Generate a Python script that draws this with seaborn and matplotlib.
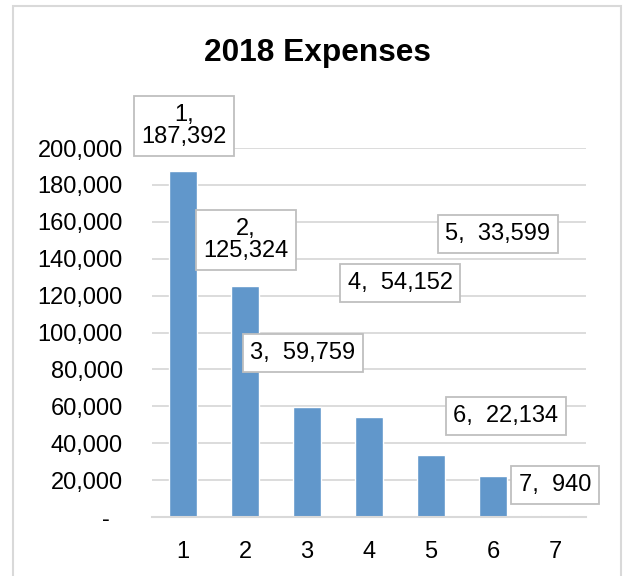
import matplotlib
matplotlib.use("Agg")
import matplotlib.pyplot as plt
import seaborn as sns
import pandas as pd
from matplotlib.patches import Rectangle
from matplotlib.ticker import FuncFormatter, FixedLocator

# ---- data ----
categories = ["1", "2", "3", "4", "5", "6", "7"]
values = [187392, 125324, 59759, 54152, 33599, 22134, 940]
title = "2018 Expenses"
y_ticks = [0, 20000, 40000, 60000, 80000, 100000, 120000, 140000, 160000, 180000, 200000]

# label box anchor positions (category index, y in data units) - layout only
label_pos = [(0.016, 211900), (1.016, 150100), (1.935, 88900), (3.5, 126800),
             (5.08, 153400), (5.21, 54700), (6.0, 17300)]
label_wrap = [True, True, False, False, False, False, False]

sns.set_theme(style="white")
plt.rcParams["font.family"] = ["Liberation Sans", "DejaVu Sans"]

W, H = 623, 576
fig = plt.figure(figsize=(W / 100, H / 100), dpi=100)
ax = fig.add_axes([152 / W, 1 - 517 / H, (586 - 152) / W, (517 - 148) / H])

df = pd.DataFrame({"cat": categories, "val": values})
sns.barplot(data=df, x="cat", y="val", ax=ax, color="#6197CB", saturation=1,
            width=0.44, zorder=2)

ax.set_xlim(-0.5, len(categories) - 0.5)
ax.set_ylim(0, 200000)
ax.set_xlabel("")
ax.set_ylabel("")

grid_c = "#D9D9D9"
for s in ["left", "right", "top"]:
    ax.spines[s].set_visible(False)
ax.spines["bottom"].set_color(grid_c)
ax.spines["bottom"].set_linewidth(1.5)
ax.spines["bottom"].set_zorder(3)

fs = 17
ax.yaxis.set_major_locator(FixedLocator(y_ticks))
ax.yaxis.set_major_formatter(FuncFormatter(lambda v, p: "-  " if v == 0 else f"{int(v):,}"))
ax.tick_params(axis="y", length=0, pad=21, labelsize=fs, labelcolor="black")
for yt in y_ticks[1:]:
    ax.axhline(yt, color=grid_c, lw=1.3, zorder=0)

ax.set_xticks(range(len(categories)))
ax.set_xticklabels(categories)
ax.tick_params(axis="x", which="major", length=0, pad=17, labelsize=fs, labelcolor="black")
ax.set_xticks([i - 0.5 for i in range(len(categories) + 1)], minor=True)
ax.tick_params(axis="x", which="minor", length=4.5, width=1.3, color=grid_c, direction="out")

for i, (v, (px, py), wrap) in enumerate(zip(values, label_pos, label_wrap)):
    sep = ",\n" if wrap else ",  "
    txt = f"{categories[i]}{sep}{v:,}"
    ax.text(px, py, txt, ha="center", va="center", fontsize=fs, color="black",
            linespacing=1.05, zorder=5, clip_on=False,
            bbox=dict(boxstyle="square,pad=0.33", facecolor="white",
                      edgecolor="#BFBFBF", linewidth=1.3))

fig.text(317 / W, 1 - 53 / H, title, ha="center", va="center",
         fontsize=22.8, fontweight="bold", color="black")

fig.patches.append(Rectangle((13 / W, -0.05), (621 - 13) / W, 1 - 6 / H + 0.05,
                             transform=fig.transFigure, fill=False,
                             edgecolor=grid_c, linewidth=1.5))

fig.savefig("out.png", dpi=100, facecolor="white")
